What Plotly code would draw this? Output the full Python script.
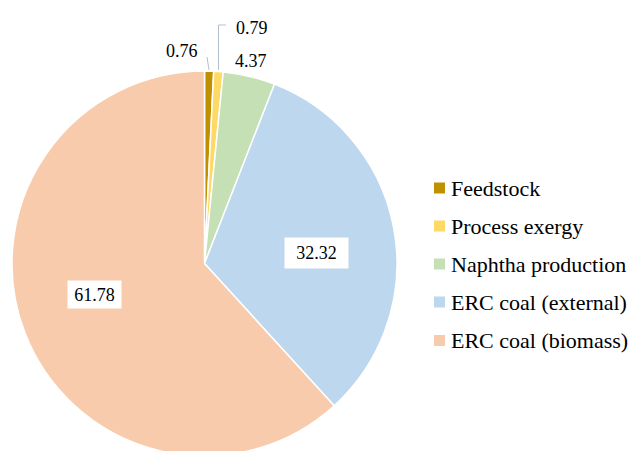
import plotly.graph_objects as go

# Exergy share (%) per contribution
categories = ["Feedstock", "Process exergy", "Naphtha production",
              "ERC coal (external)", "ERC coal (biomass)"]
shares = [0.76, 0.79, 4.37, 32.32, 61.78]
colors = ["#BF9000", "#FFD966", "#C5E0B4", "#BDD7EE", "#F8CBAD"]

W, H = 640, 451
OFF = 8  # page body margin, positions below are given in screen pixels
FONT = "Liberation Serif, Times New Roman, serif"


def px(x):
    return (x - OFF) / W


def py(y):
    return 1 - (y - OFF) / H


fig = go.Figure()
fig.add_trace(go.Pie(
    labels=categories,
    values=shares,
    marker=dict(colors=colors, line=dict(color="white", width=1.5)),
    sort=False,
    direction="clockwise",
    rotation=0,
    textinfo="none",
    hoverinfo="label+value",
    showlegend=False,
    domain=dict(x=[px(12), px(397)], y=[py(456), py(71)]),
))

# data labels
label_pos = [(182, 51), (252, 28), (251, 61), (316, 253), (94, 294)]
boxes = [None, None, None, (63, 30), (53, 27)]
annotations = []
for v, (x, y), box in zip(shares, label_pos, boxes):
    a = dict(x=px(x), y=py(y), xref="paper", yref="paper", text=f"{v:.2f}",
             showarrow=False, xanchor="center", yanchor="middle",
             font=dict(family=FONT, size=18, color="#000000"))
    if box:
        a.update(bgcolor="white", width=box[0], height=box[1], borderpad=0)
    annotations.append(a)

# legend drawn by hand to get the original spacing
shapes = []
legend_y = [188, 226, 264, 302, 340.5]
for name, col, y in zip(categories, colors, legend_y):
    shapes.append(dict(type="rect", xref="paper", yref="paper",
                       x0=px(434), x1=px(445), y0=py(y - 5.5), y1=py(y + 5.5),
                       fillcolor=col, line=dict(width=0)))
    annotations.append(dict(x=px(450), y=py(y), xref="paper", yref="paper",
                            text=name, showarrow=False, xanchor="left",
                            yanchor="middle", borderpad=0,
                            font=dict(family=FONT, size=22, color="#000000")))

# leader lines for the small slices
lead = "#B4BFCC"
shapes += [
    dict(type="line", xref="paper", yref="paper",
         x0=px(207), y0=py(57), x1=px(209), y1=py(70), line=dict(color=lead, width=1)),
    dict(type="line", xref="paper", yref="paper",
         x0=px(218.5), y0=py(70), x1=px(218.5), y1=py(25), line=dict(color=lead, width=1)),
    dict(type="line", xref="paper", yref="paper",
         x0=px(218.5), y0=py(25), x1=px(226), y1=py(25), line=dict(color=lead, width=1)),
]

fig.update_layout(
    width=W, height=H,
    margin=dict(l=0, r=0, t=0, b=0),
    paper_bgcolor="white",
    plot_bgcolor="white",
    annotations=annotations,
    shapes=shapes,
)

fig.write_html("out.html")
